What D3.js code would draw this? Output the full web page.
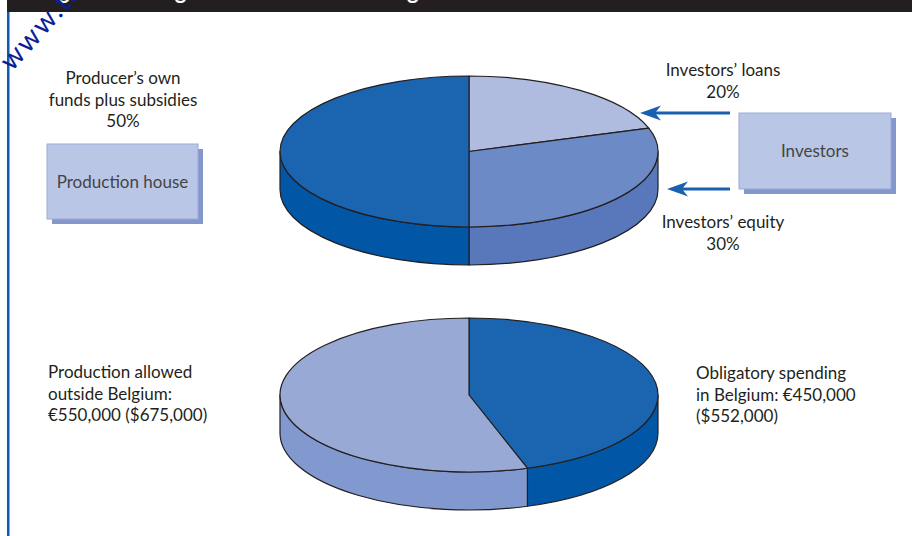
<!DOCTYPE html>
<html lang="en">
<head>
<meta charset="UTF-8">
<script src="https://d3js.org/d3.v7.min.js"></script>
<style>
  body { margin: 0; background: #fff; }
  svg text { font-family: Lato, "Open Sans", sans-serif; fill: #231f20; }
  .edge { stroke: #231f20; stroke-width: 1.2px; stroke-linejoin: round; }
</style>
<title>Tax shelter financing</title>
</head>
<body>
<svg id="chart" width="912" height="536"></svg>
<script>

// financing of the production (top pie)
var fundingNames  = ["Investors’ loans", "Investors’ equity", "Producer’s own funds plus subsidies"];
var fundingShares = [20, 30, 50];
var fundingTop    = ["#afbce0", "#6c8ac5", "#1b65b0"];
var fundingSide   = ["#9aaad8", "#5878bb", "#0256a6"];

// where the money is spent (bottom pie)
var spendNames = ["Obligatory spending in Belgium", "Production allowed outside Belgium"];
var spendEuros = [450000, 550000];
var spendTop   = ["#1b65b0", "#98a9d6"];
var spendSide  = ["#0256a6", "#8299cf"];

var svg = d3.select("#chart");

// dark header strip (title runs off the top) and blue rule on the left
svg.append("rect").attr("x", 7).attr("y", 0).attr("width", 905).attr("height", 12).attr("fill", "#231f20");
svg.append("text").attr("x", 40).attr("y", -1)
  .style("font-size", "22px").style("font-weight", "bold").style("fill", "#fff")
  .text("Figure 4.3  Belgian tax shelter financing");
svg.append("rect").attr("x", 7).attr("y", 12).attr("width", 2.5).attr("height", 524).attr("fill", "#0d5bb0");

// 3D pie built from d3.pie angles, squashed into an ellipse
function pie3d(values, tops, sides, cx, cy, rx, ry, depth) {
  var g = svg.append("g");
  var slices = d3.pie().sort(null)(values);
  var px = function (a) { return cx + rx * Math.sin(a); };
  var py = function (a) { return cy - ry * Math.cos(a); };

  // front rim
  slices.forEach(function (s, i) {
    var a0 = Math.max(s.startAngle, Math.PI / 2), a1 = Math.min(s.endAngle, 3 * Math.PI / 2);
    if (a1 <= a0) return;
    var d = "M" + px(a0) + "," + py(a0) +
      "A" + rx + "," + ry + " 0 0 1 " + px(a1) + "," + py(a1) +
      "L" + px(a1) + "," + (py(a1) + depth) +
      "A" + rx + "," + ry + " 0 0 0 " + px(a0) + "," + (py(a0) + depth) + "Z";
    g.append("path").attr("class", "edge").attr("d", d).attr("fill", sides[i]);
  });

  // top face
  slices.forEach(function (s, i) {
    var large = (s.endAngle - s.startAngle) > Math.PI ? 1 : 0;
    var d = "M" + cx + "," + cy +
      "L" + px(s.startAngle) + "," + py(s.startAngle) +
      "A" + rx + "," + ry + " 0 " + large + " 1 " + px(s.endAngle) + "," + py(s.endAngle) + "Z";
    g.append("path").attr("class", "edge").attr("d", d).attr("fill", tops[i]);
  });
  return g;
}

pie3d(fundingShares, fundingTop, fundingSide, 469, 151.5, 189, 75.5, 38);
pie3d(spendEuros, spendTop, spendSide, 469, 395, 189, 77, 38);

// boxes with offset shadows
function box(x, y, w, h, label) {
  svg.append("rect").attr("x", x + 5).attr("y", y + 5).attr("width", w).attr("height", h).attr("fill", "#8497cd");
  svg.append("rect").attr("x", x).attr("y", y).attr("width", w).attr("height", h)
    .attr("fill", "#bac6e6").attr("stroke", "#9aabd8").attr("stroke-width", 1);
  svg.append("text").attr("x", x + w / 2).attr("y", y + h / 2 + 6)
    .attr("text-anchor", "middle").style("font-size", "17px")
    .style("fill", "#444").text(label);
}
box(47, 144, 151, 75, "Production house");
box(739, 113, 152, 76, "Investors");

// arrows from investors into the pie
function arrow(x0, x1, y) {
  svg.append("line").attr("x1", x0).attr("x2", x1 + 14).attr("y1", y).attr("y2", y)
    .attr("stroke", "#1a5fb0").attr("stroke-width", 3);
  svg.append("path").attr("fill", "#1a5fb0")
    .attr("d", "M" + x1 + "," + y + " L" + (x1 + 21) + "," + (y - 7.5) +
      " L" + (x1 + 15) + "," + y + " L" + (x1 + 21) + "," + (y + 7.5) + "Z");
}
arrow(730, 640, 113);
arrow(730, 667, 189);

// labels
function label(x, y, lines, anchor) {
  var t = svg.append("text").attr("x", x).attr("y", y).attr("text-anchor", anchor).style("font-size", "17px");
  lines.forEach(function (s, i) {
    t.append("tspan").attr("x", x).attr("dy", i ? 21.5 : 0).text(s);
  });
}
label(123, 84, ["Producer’s own", "funds plus subsidies", fundingShares[2] + "%"], "middle");
label(723, 76, [fundingNames[0], fundingShares[0] + "%"], "middle");
label(723, 228, [fundingNames[1], fundingShares[1] + "%"], "middle");
label(48, 378, ["Production allowed", "outside Belgium:", "€550,000 ($675,000)"], "start");
label(696, 379, ["Obligatory spending", "in Belgium: €450,000", "($552,000)"], "start");

// watermark
svg.append("text").attr("transform", "translate(12,72) rotate(-48)")
  .style("font-size", "28px").style("letter-spacing", "2px").style("fill", "#0d1f96")
  .text("www.taxshelter.be");

</script>
</body>
</html>
